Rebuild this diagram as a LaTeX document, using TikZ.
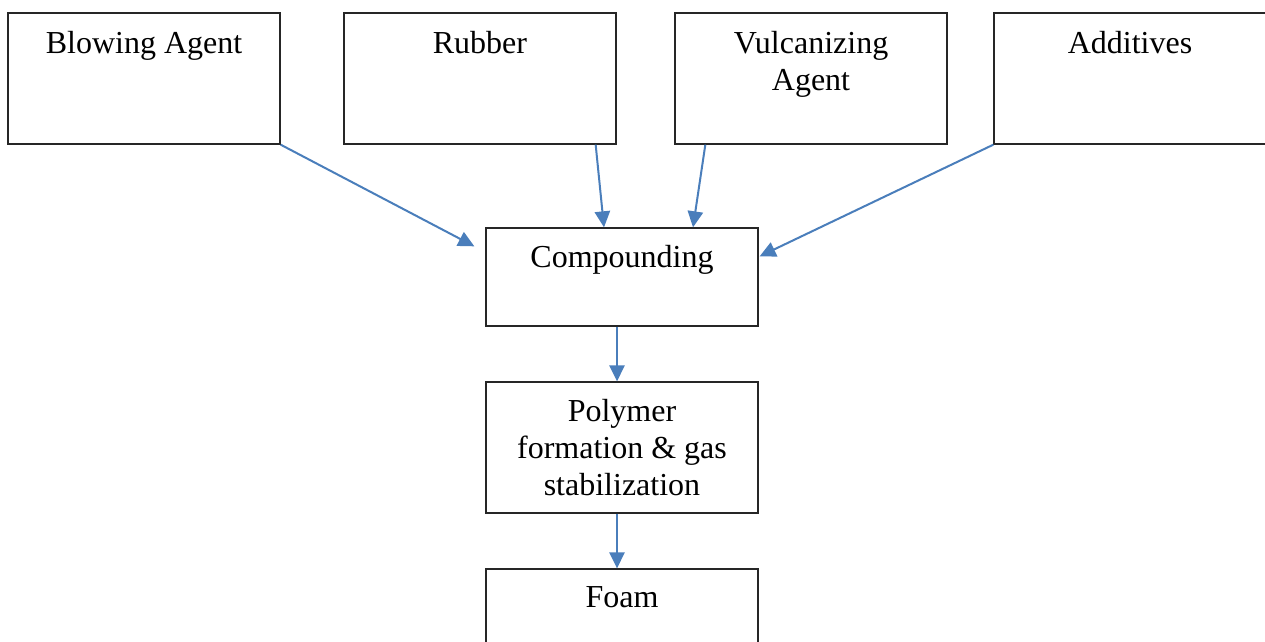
\documentclass[tikz,border=0pt]{standalone}
\usepackage{fontspec}
\setmainfont{Liberation Serif}
\usetikzlibrary{calc,arrows.meta}
\definecolor{flowblue}{RGB}{74,126,187}
\begin{document}
\begin{tikzpicture}[x=0.75pt,y=-0.75pt,
  box/.style={draw=black!85,line width=1pt,minimum width=204pt,inner sep=0pt},
  tall/.style={box,minimum height=98.25pt},
  short/.style={box,minimum height=73.5pt},
  txt/.style={anchor=base,align=center,inner sep=0pt,font=\fontsize{24}{27.75}\selectfont},
  txttop/.style={txt,anchor=north},
  flow/.style={draw=flowblue,line width=1.5pt,-{Triangle[length=12pt,width=11.5pt]}}]
\useasboundingbox (0,0) rectangle (1265,642);

\node (blow) at (144,78.5) [tall] {};
\node (rubber) at (480,78.5) [tall] {};
\node (vulc) at (811,78.5) [tall] {};
\node (addit) at (1130,78.5) [tall] {};
\node (blowtxt) at ($(blow.north)+(0,41)$) [txt] {Blowing Agent};
\node (rubbertxt) at ($(rubber.north)+(0,41)$) [txt] {Rubber};
\node (vulctxt) at ($(vulc.north)+(0,19)$) [txttop] {Vulcanizing\\Agent};
\node (additxt) at ($(addit.north)+(0,41)$) [txt] {Additives};

\node (comp) at (622,277) [short] {};
\node (comptxt) at ($(comp.north)+(0,40)$) [txt] {Compounding};

\node (poly) at (622,447.5) [tall] {};
\node (polytxt) at ($(poly.north)+(0,18)$) [txttop] {Polymer\\formation \& gas\\stabilization};

\node (foam) at (622,634.5) [tall] {};
\node (foamtxt) at ($(foam.north)+(0,39)$) [txt] {Foam};

\draw[flow] (blow.south east) -- ($(comp.north west)+(-11,19)$);
\draw[flow] ($(rubber.south east)+(-21,0)$) -- ($(comp.north)+(-18,0)$);
\draw[flow] ($(vulc.south west)+(31,0)$) -- ($(comp.north)+(71,0)$);
\draw[flow] (addit.south west) -- ($(comp.north east)+(1,29)$);

\draw[flow] ($(comp.south)+(-5,0)$) -- ($(poly.north)+(-5,0)$);
\draw[flow] ($(poly.south)+(-5,0)$) -- ($(foam.north)+(-5,0)$);
\end{tikzpicture}
\end{document}
